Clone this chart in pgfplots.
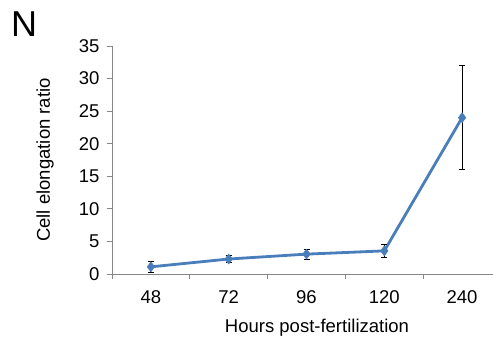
\documentclass[border=0pt]{standalone}
\usepackage{pgfplots}
\pgfplotsset{compat=1.18}
\usepackage{fontspec}
\setmainfont{Liberation Sans}
\definecolor{lineblue}{RGB}{74,126,187}
\definecolor{axgray}{RGB}{134,134,134}
\begin{document}
\begin{tikzpicture}
\useasboundingbox (-112pt,-69pt) rectangle (381pt,274pt);
\node[font=\fontsize{36}{40}\selectfont] at (-88pt,250pt) {N};
\begin{axis}[
  scale only axis, width=389pt, height=228pt,
  xmin=-0.5, xmax=4.5, ymin=0, ymax=35,
  axis lines*=left,
  axis line style={draw=axgray, line width=0.8pt},
  tick style={draw=axgray, line width=0.8pt},
  tick align=outside, major tick length=5pt,
  xtick={-0.5,0.5,1.5,2.5,3.5,4.5},
  x tick label as interval,
  xticklabels={48,72,96,120,240},
  ytick={0,5,...,35},
  /pgf/number format/assume math mode=true,
  ticklabel style={font=\fontsize{18.5}{22}\selectfont},
  xticklabel style={yshift=-8pt},
  yticklabel style={xshift=-4pt},
  xlabel={Hours post-fertilization},
  ylabel={Cell elongation ratio},
  label style={font=\fontsize{18.5}{22}\selectfont},
  xlabel style={at={(axis description cs:0.527,-0.237)}, anchor=center},
  ylabel style={at={(axis description cs:-0.172,0.5)}, anchor=center},
  clip=false,
]
\addplot[color=lineblue, line width=2.8pt, mark=diamond*, mark size=5pt,
  mark options={fill=lineblue, draw=lineblue, line width=0.5pt},
  error bars/.cd, y dir=both, y explicit,
  error bar style={black, line width=0.8pt},
  error mark options={black, line width=0.8pt, mark size=3pt, rotate=90}]
  coordinates {
  (0,1.1) +- (0,0.85)
  (1,2.3) +- (0,0.5)
  (2,3.05) +- (0,0.75)
  (3,3.55) +- (0,1.05)
  (4,24.0) +- (0,8.0)
  };
\end{axis}
\end{tikzpicture}
\end{document}
